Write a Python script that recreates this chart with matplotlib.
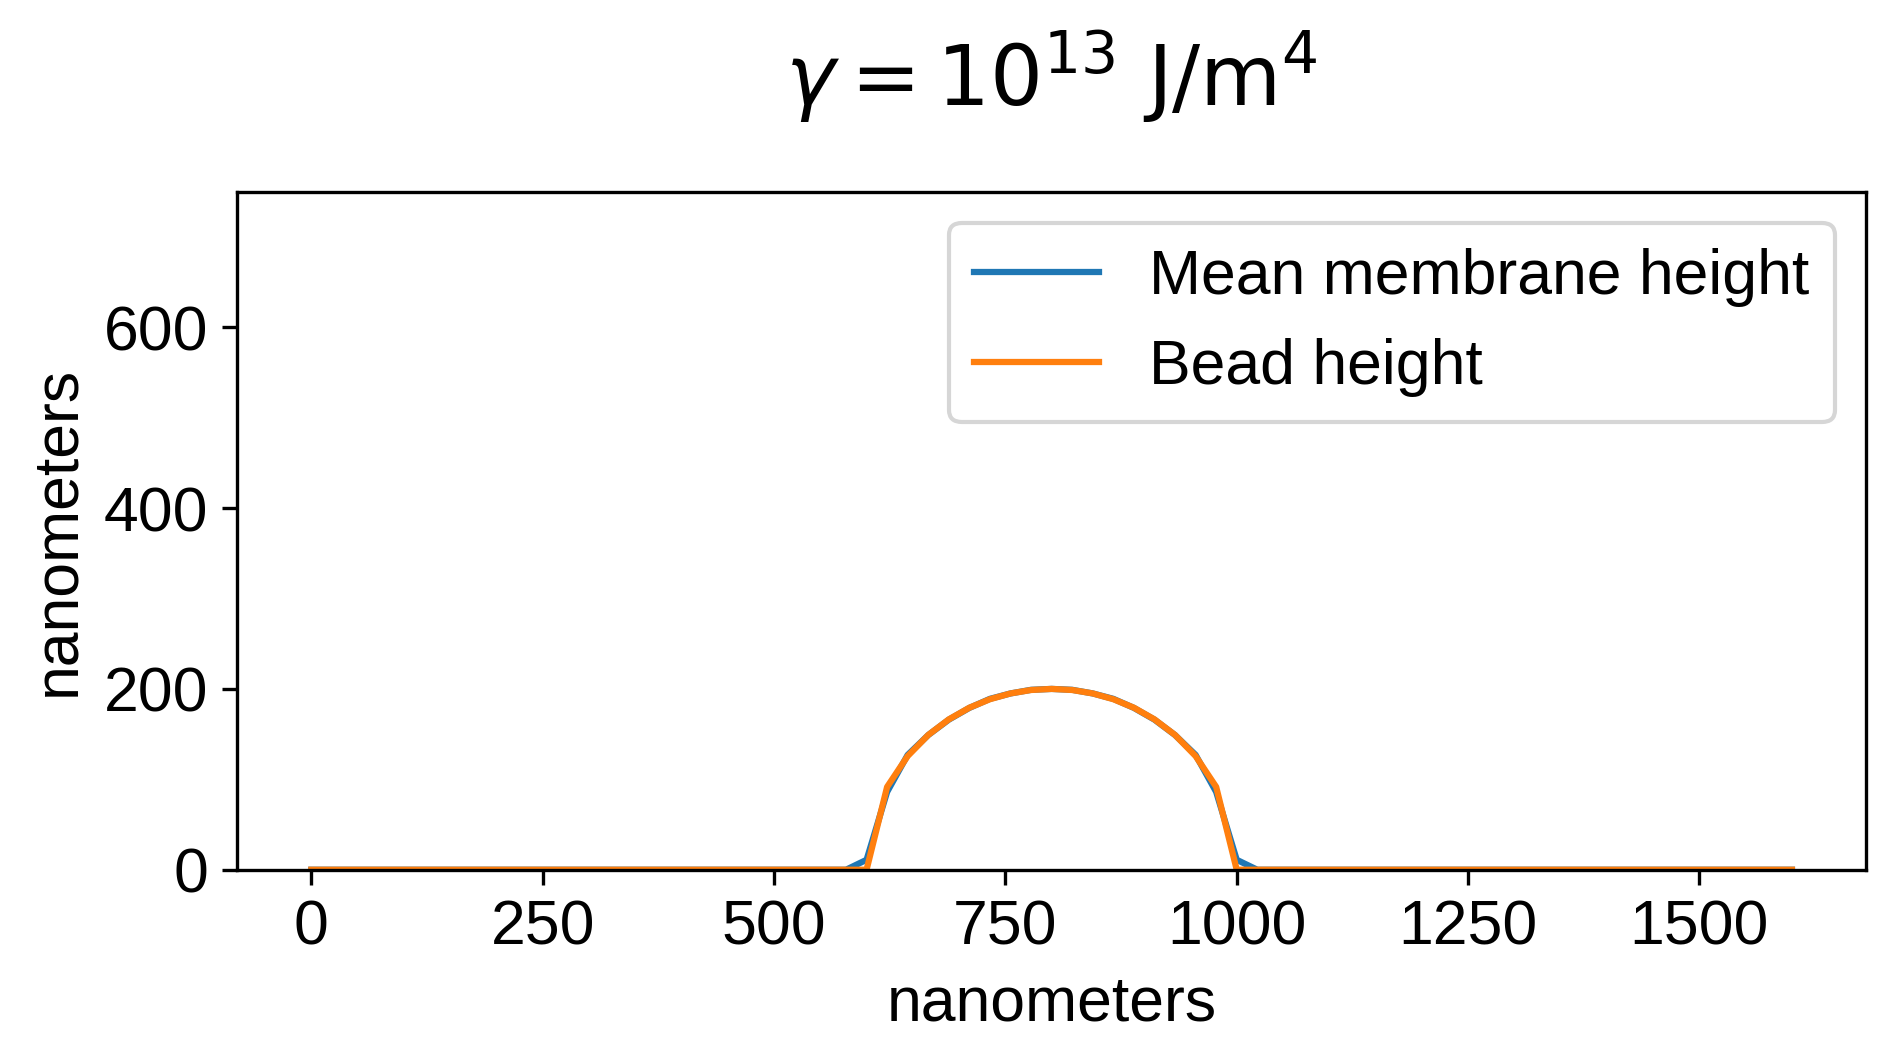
import matplotlib
matplotlib.use("Agg")
import matplotlib.pyplot as plt

plt.rcParams['font.family'] = ['Liberation Sans', 'DejaVu Sans']
plt.rcParams['mathtext.fontset'] = 'dejavusans'

# x positions (nm) where the curves change; flat zero elsewhere
x_membrane = [0, 577.8, 600.0, 622.2, 644.4, 666.7, 688.9, 711.1, 733.3, 755.6,
              777.8, 800.0, 822.2, 844.4, 866.7, 888.9, 911.1, 933.3, 955.6,
              977.8, 1000.0, 1022.2, 1600]
membrane_height = [0, 0, 11, 86, 127, 149, 166, 179, 189, 195,
                   199, 200, 199, 195, 189, 179, 166, 149, 127,
                   86, 11, 0, 0]

x_bead = [0, 600.0, 622.2, 644.4, 666.7, 688.9, 711.1, 733.3, 755.6,
          777.8, 800.0, 822.2, 844.4, 866.7, 888.9, 911.1, 933.3, 955.6,
          977.8, 1000.0, 1600]
bead_height = [0, 0, 91.6, 125.7, 149.1, 166.3, 179.2, 188.6, 195.0,
               198.8, 200.0, 198.8, 195.0, 188.6, 179.2, 166.3, 149.1, 125.7,
               91.6, 0, 0]

fig = plt.figure(figsize=(1894 / 300, 1060 / 300), dpi=300)
ax = fig.add_axes([0.1253, 0.1795, 0.9852 - 0.1253, 0.8192 - 0.1795])

ax.plot(x_membrane, membrane_height, color='#1f77b4', label='Mean membrane height')
ax.plot(x_bead, bead_height, color='#ff7f0e', label='Bead height')

ax.set_ylim(0, 750)
ax.set_xlim(-80, 1680)
ax.set_xticks([0, 250, 500, 750, 1000, 1250, 1500])
ax.set_yticks([0, 200, 400, 600])
ax.tick_params(labelsize=15)
ax.set_xlabel('nanometers', fontsize=15)
ax.set_ylabel('nanometers', fontsize=15)
ax.legend(loc='upper right', fontsize=15)
ax.set_title(r'$\gamma = 10^{13}\ \mathrm{J/m}^4$', fontsize=20, pad=20.5)

fig.savefig('out.png', dpi=300)
